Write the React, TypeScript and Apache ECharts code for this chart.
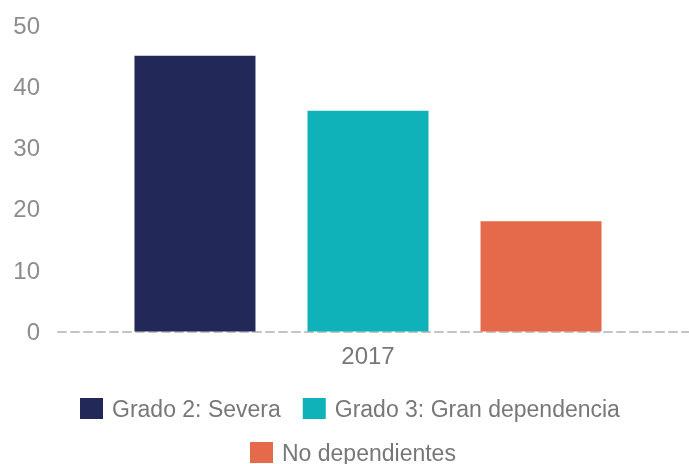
import React, { useEffect, useRef } from "react";
import * as echarts from "echarts";

const categories = ["2017"];
const seriesNames = ["Grado 2: Severa", "Grado 3: Gran dependencia", "No dependientes"];
const severaValues = [45];
const granDependenciaValues = [36];
const noDependientesValues = [18];
const colors = ["#222858", "#10b2ba", "#e5694b"];
const yTicks = { min: 0, max: 50, interval: 10 };

export default function App() {
  const ref = useRef<HTMLDivElement>(null);
  useEffect(() => {
    if (!ref.current) return;
    const chart = echarts.init(ref.current, null, { renderer: "svg" });
    const font = "'Liberation Sans', Arial, sans-serif";
    const mkSeries = (name: string, data: number[], color: string) => ({
      name,
      type: "bar",
      data,
      barWidth: 121,
      barGap: "43%",
      itemStyle: { color },
      xAxisIndex: 0,
      yAxisIndex: 0,
    });
    const legendText = { color: "#777", fontSize: 23, fontFamily: font, padding: [0, 0, 0, 4] };
    chart.setOption({
      animation: false,
      grid: [
        { left: 58, width: 620, top: 25, bottom: 132.5, containLabel: false },
        { left: 58, right: 0, top: 25, bottom: 132.5, containLabel: false },
      ],
      xAxis: [
        {
          type: "category",
          data: categories,
          gridIndex: 0,
          axisLine: { show: false },
          axisTick: { show: false },
          axisLabel: { color: "#777", fontSize: 24, fontFamily: font, margin: 12 },
        },
        {
          type: "category",
          data: categories,
          gridIndex: 1,
          axisLine: { show: true, lineStyle: { color: "#c4c4c4", width: 2, type: [8, 5] } },
          axisTick: { show: false },
          axisLabel: { show: false },
        },
      ],
      yAxis: [
        {
          type: "value",
          gridIndex: 0,
          min: yTicks.min,
          max: yTicks.max,
          interval: yTicks.interval,
          splitLine: { show: false },
          axisLine: { show: false },
          axisTick: { show: false },
          axisLabel: { color: "#8c8c8c", fontSize: 24, fontFamily: font, margin: 18 },
        },
        {
          type: "value",
          gridIndex: 1,
          min: yTicks.min,
          max: yTicks.max,
          interval: yTicks.interval,
          show: false,
        },
      ],
      legend: [
        {
          data: [seriesNames[0], seriesNames[1]],
          left: 75,
          top: 392,
          itemWidth: 23,
          itemHeight: 21,
          itemGap: 22,
          icon: "rect",
          textStyle: legendText,
        },
        {
          data: [seriesNames[2]],
          left: 245,
          top: 436,
          itemWidth: 23,
          itemHeight: 21,
          itemGap: 22,
          icon: "rect",
          textStyle: legendText,
        },
      ],
      series: [
        mkSeries(seriesNames[0], severaValues, colors[0]),
        mkSeries(seriesNames[1], granDependenciaValues, colors[1]),
        mkSeries(seriesNames[2], noDependientesValues, colors[2]),
      ],
    });
    return () => chart.dispose();
  }, []);
  return <div ref={ref} style={{ width: 689, height: 464, position: "fixed", left: 0, top: 0 }} />;
}
